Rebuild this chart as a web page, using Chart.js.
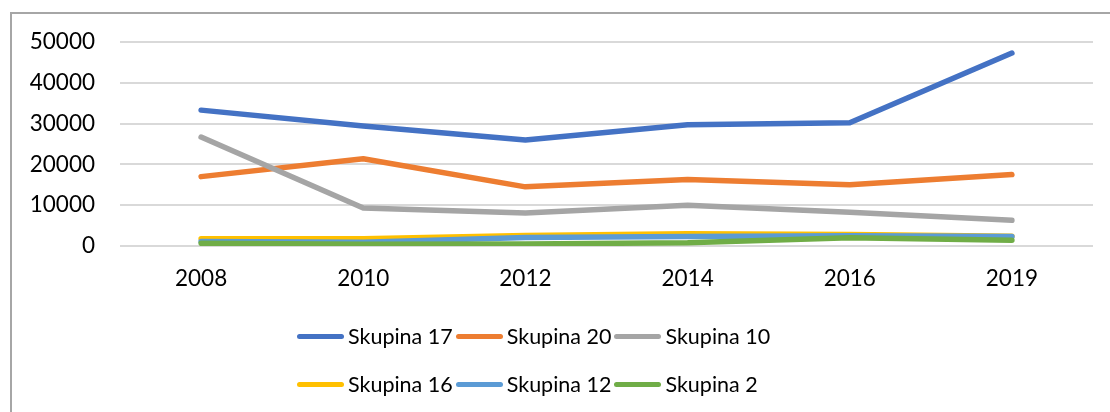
<!DOCTYPE html>
<html>
<head>
<meta charset="utf-8">
<script src="https://cdn.jsdelivr.net/npm/chart.js@4"></script>
<style>
    html, body { margin: 0; padding: 0; background: #fff; }
    body { width: 1110px; height: 412px; position: relative; overflow: hidden; font-family: Lato, sans-serif; }
    #frame { position: absolute; left: 10px; top: 12px; width: 1100px; height: 400px; border-left: 2px solid #a6a6a6; border-top: 2px solid #a6a6a6; }
    #wrap { position: absolute; left: 0; top: 0; width: 1110px; height: 412px; }
    #legend { position: absolute; left: 297px; top: 322px; width: 520px; display: flex; flex-wrap: wrap; row-gap: 20px; }
    .item { display: flex; align-items: center; height: 28px; margin-right: 3px; }
    .swatch { width: 47px; height: 5px; border-radius: 3px; margin-right: 4px; }
    .label { font-size: 21.5px; color: #000; white-space: nowrap; }
</style>
</head>
<body>
<div id="frame"></div>
<div id="wrap"><canvas id="chart"></canvas></div>
<div id="legend"></div>
<script>
const years = ['2008', '2010', '2012', '2014', '2016', '2019'];
const seriesNames = ['Skupina 17', 'Skupina 20', 'Skupina 10', 'Skupina 16', 'Skupina 12', 'Skupina 2'];
const skupina17 = [33300, 29400, 26000, 29700, 30200, 47300];
const skupina20 = [17000, 21400, 14500, 16300, 15000, 17500];
const skupina10 = [26700, 9300, 8100, 10000, 8300, 6300];
const skupina16 = [1800, 1800, 2600, 3000, 2800, 2400];
const skupina12 = [1100, 900, 2100, 2300, 2500, 2300];
const skupina2 = [650, 400, 500, 800, 2000, 1400];
const seriesColors = ['#4472C4', '#ED7D31', '#A5A5A5', '#FFC000', '#5B9BD5', '#70AD47'];

const allValues = [skupina17, skupina20, skupina10, skupina16, skupina12, skupina2];

const datasets = allValues.map((vals, i) => ({
    label: seriesNames[i],
    data: vals,
    borderColor: seriesColors[i],
    backgroundColor: seriesColors[i],
    borderWidth: 5.5,
    borderCapStyle: 'round',
    borderJoinStyle: 'round',
    pointRadius: 0,
    tension: 0,
    order: allValues.length - i
}));

const font = { family: 'Lato, sans-serif', size: 22.5 };

new Chart(document.getElementById('chart'), {
    type: 'line',
    data: { labels: years, datasets },
    options: {
        responsive: true,
        maintainAspectRatio: false,
        animation: false,
        layout: { padding: { top: 42, right: 17, bottom: 0, left: 0 } },
        plugins: { legend: { display: false }, tooltip: { enabled: false } },
        scales: {
            x: {
                offset: true,
                grid: { display: false, drawTicks: false },
                border: { display: false },
                ticks: { color: '#000', font, padding: 19, maxRotation: 0 },
                afterFit: (s) => { s.height = 166; }
            },
            y: {
                min: 0,
                max: 50000,
                grid: { color: '#d9d9d9', lineWidth: 2, drawTicks: false },
                border: { display: false },
                ticks: { stepSize: 10000, color: '#000', font, padding: 25, callback: (v) => String(v) },
                afterFit: (s) => { s.width = 120; }
            }
        }
    }
});

// legend built from the same arrays
const legendEl = document.getElementById('legend');
seriesNames.forEach((name, i) => {
    const item = document.createElement('div');
    item.className = 'item';
    item.innerHTML = `<div class="swatch" style="background:${seriesColors[i]}"></div><span class="label">${name}</span>`;
    legendEl.appendChild(item);
});
</script>
</body>
</html>
